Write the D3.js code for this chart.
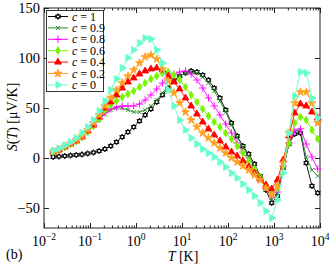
<html>
<head>
<style>
  body { margin: 0; background: #fff; }
  svg { display: block; font-family: "Liberation Serif", "DejaVu Serif", serif; }
  .line { fill: none; stroke-width: 0.9; }
  .frame { fill: none; stroke: #222; stroke-width: 1; }
  .axis path { display: none; }
  .axis line { stroke: #222; }
</style>
</head>
<body>
<svg id="chart" width="332" height="264"></svg>
<script src="https://cdn.jsdelivr.net/npm/d3@7"></script>
<script>
// temperature grid [K]
const T = [0.0158, 0.0211, 0.0282, 0.0376, 0.0501, 0.0668, 0.0891, 0.119, 0.158, 0.211,
  0.282, 0.376, 0.501, 0.668, 0.891, 1.19, 1.58, 2.11, 2.82, 3.76,
  5.01, 6.68, 8.91, 11.9, 15.8, 21.1, 28.2, 37.6, 50.1, 66.8,
  89.1, 119, 158, 211, 282, 376, 501, 668, 891, 1190,
  1585, 2113, 2818, 3758, 5012, 6683, 8913]

// thermopower S(T) [µV/K], one list per concentration
const S_c1 = [1, 1.5, 2, 2.5, 3, 3.5, 4.5, 5.5, 7, 9,
  12, 16, 21, 26, 31, 37, 43, 49, 56, 63,
  70, 77, 82, 85, 87, 86, 83, 78, 70, 60,
  48, 35, 22, 12, 4, -6, -18, -32, -45, -38,
  -10, 14, 24, 25, -5, -28, -35]
const S_c09 = [6, 8, 11, 14, 17, 21, 26, 32, 38, 44,
  48, 50, 50, 48, 46, 46, 48, 52, 58, 65,
  72, 78, 82, 85, 86, 85, 81, 75, 67, 57,
  46, 33, 21, 11, 2, -8, -19, -30, -42, -36,
  -10, 14, 27, 28, 1, -12, -18]
const S_c08 = [6, 8, 11, 14, 17, 21, 26, 33, 39, 45,
  49, 51, 52, 52, 52, 54, 58, 63, 69, 75,
  80, 84, 86, 87, 84, 78, 70, 60, 52, 43,
  34, 25, 15, 6, -3, -12, -21, -30, -39, -34,
  -8, 15, 27, 29, 14, 1, -11]
const S_c06 = [6, 8, 11, 14, 17, 21, 26, 32, 39, 48,
  53, 57, 61, 64, 67, 71, 75, 79, 82, 85,
  86, 83, 78, 71, 63, 56, 49, 42, 36, 31,
  25, 19, 12, 5, -3, -11, -19, -27, -35, -30,
  -8, 15, 35, 41, 38, 28, 19]
const S_c04 = [6, 8, 11, 14, 17, 21, 27, 33, 41, 50,
  56, 63, 70, 76, 80, 84, 87, 89, 90, 88,
  82, 76, 69, 60, 52, 44, 36, 29, 23, 17,
  11, 6, 2, -3, -9, -15, -21, -27, -31, -22,
  -2, 22, 45, 54, 52, 46, 40]
const S_c02 = [6.5, 8.5, 11.5, 14.5, 18, 22, 28, 35, 43, 52,
  60, 68, 75, 82, 88, 95, 101, 103, 99, 89,
  77, 65, 55, 46, 38, 31, 25, 20, 15, 10,
  5, 0, -4, -8, -12, -17, -22, -30, -37, -28,
  -5, 25, 55, 66, 66, 55, 35]
const S_c0 = [7, 9.5, 12.5, 16, 20, 25, 31, 38, 47, 57,
  68, 79, 90, 100, 108, 115, 120, 119, 108, 95,
  68, 52, 38, 28, 20, 14, 9, 5, 1, -4,
  -9, -15, -20, -26, -32, -38, -45, -53, -60, -42,
  -15, 25, 62, 86, 85, 60, 40]

const cLabels = ["1", "0.9", "0.8", "0.6", "0.4", "0.2", "0"]
const colors = ["#000000", "#2a8a2a", "#ff00ff", "#77f500", "#ff0000", "#ffa020", "#66ffcc"]
const seriesValues = [S_c1, S_c09, S_c08, S_c06, S_c04, S_c02, S_c0]

const xTicksMajor = [1e-2, 1e-1, 1e0, 1e1, 1e2, 1e3, 1e4]
const xTickExp = ["\u22122", "\u22121", "0", "1", "2", "3", "4"]
const yTicks = [-50, 0, 50, 100, 150]

const svg = d3.select("#chart")
const pl = 44, pr = 320, pt = 8, pb = 228

const x = d3.scaleLog().domain([0.01, 10000]).range([pl, pr])
const y = d3.scaleLinear().domain([-70, 150]).range([pb, pt])

// minor log ticks 2..9 of each decade
let xMinor = []
xTicksMajor.slice(0, -1).forEach(d => { for (let m = 2; m < 10; m++) xMinor.push(d * m) })

// six-pointed open star used for c = 1
const hexagram = {
  draw(ctx, size) {
    const r = Math.sqrt(size) * 0.62
    const tri = a => {
      for (let i = 0; i < 3; i++) {
        const t = a + i * 2 * Math.PI / 3
        i ? ctx.lineTo(r * Math.cos(t), r * Math.sin(t)) : ctx.moveTo(r * Math.cos(t), r * Math.sin(t))
      }
      ctx.closePath()
    }
    tri(-Math.PI / 2)
    tri(Math.PI / 2)
  }
}

const markers = [
  { type: hexagram, size: 22, fill: "#fff", stroke: "#000", rot: 0 },
  { type: d3.symbolX, size: 13, fill: "none", stroke: colors[1], rot: 0 },
  { type: d3.symbolPlus, size: 20, fill: "none", stroke: colors[2], rot: 0 },
  { type: d3.symbolDiamond, size: 17, fill: colors[3], stroke: colors[3], rot: 0 },
  { type: d3.symbolTriangle, size: 20, fill: colors[4], stroke: colors[4], rot: 0 },
  { type: d3.symbolStar, size: 20, fill: colors[5], stroke: colors[5], rot: 0 },
  { type: d3.symbolTriangle, size: 22, fill: colors[6], stroke: colors[6], rot: 90 }
]

// axes with inward ticks
svg.append("g").attr("class", "axis").attr("transform", `translate(0,${pb})`)
  .call(d3.axisBottom(x).tickValues(xTicksMajor).tickSize(-5).tickFormat(""))
svg.append("g").attr("class", "axis").attr("transform", `translate(0,${pb})`)
  .call(d3.axisBottom(x).tickValues(xMinor).tickSize(-2.5).tickFormat(""))
svg.append("g").attr("class", "axis").attr("transform", `translate(0,${pt})`)
  .call(d3.axisTop(x).tickValues(xTicksMajor).tickSize(-5).tickFormat(""))
svg.append("g").attr("class", "axis").attr("transform", `translate(0,${pt})`)
  .call(d3.axisTop(x).tickValues(xMinor).tickSize(-2.5).tickFormat(""))
svg.append("g").attr("class", "axis").attr("transform", `translate(${pl},0)`)
  .call(d3.axisLeft(y).tickValues(yTicks).tickSize(-5).tickFormat(""))
svg.append("g").attr("class", "axis").attr("transform", `translate(${pr},0)`)
  .call(d3.axisRight(y).tickValues(yTicks).tickSize(-5).tickFormat(""))

svg.append("rect").attr("class", "frame")
  .attr("x", pl).attr("y", pt).attr("width", pr - pl).attr("height", pb - pt)

// x tick labels 10^n
const xl = svg.append("g").selectAll("text").data(xTicksMajor).join("text")
  .attr("x", d => x(d)).attr("y", 246).attr("text-anchor", "middle")
  .attr("font-size", 14)
xl.append("tspan").text("10")
xl.append("tspan").attr("font-size", 9.5).attr("dy", -6).text((d, i) => xTickExp[i])

// y tick labels
svg.append("g").selectAll("text").data(yTicks).join("text")
  .attr("x", 40).attr("y", d => y(d) + 5).attr("text-anchor", "end")
  .attr("font-size", 14.5)
  .text(d => d < 0 ? "\u2212" + Math.abs(d) : d)

// axis titles
const xt = svg.append("text").attr("x", 183).attr("y", 261).attr("text-anchor", "middle").attr("font-size", 14)
xt.append("tspan").attr("font-style", "italic").text("T")
xt.append("tspan").text(" [K]")

const yt = svg.append("text").attr("transform", "translate(17,117) rotate(-90)")
  .attr("text-anchor", "middle").attr("font-size", 14)
yt.append("tspan").attr("font-style", "italic").text("S")
yt.append("tspan").text("(")
yt.append("tspan").attr("font-style", "italic").text("T")
yt.append("tspan").text(") [\u03bcV/K]")

svg.append("text").attr("x", 6).attr("y", 259).attr("font-size", 14).text("(b)")

// curves
const line = d3.line().x(d => x(d[0])).y(d => y(d[1]))
seriesValues.forEach((vals, i) => {
  const pts = T.map((t, j) => [t, vals[j]])
  const g = svg.append("g")
  g.append("path").datum(pts).attr("class", "line").attr("stroke", colors[i]).attr("d", line)
  const m = markers[i]
  g.selectAll("path.mk").data(pts).join("path").attr("class", "mk")
    .attr("transform", d => `translate(${x(d[0])},${y(d[1])}) rotate(${m.rot})`)
    .attr("d", d3.symbol(m.type, m.size))
    .attr("fill", m.fill).attr("stroke", m.stroke).attr("stroke-width", 0.9)
})

// legend
const lg = svg.append("g")
lg.append("rect").attr("x", 46.5).attr("y", 10.5).attr("width", 57).attr("height", 81)
  .attr("fill", "#fff").attr("stroke", "#333")
cLabels.forEach((c, i) => {
  const ly = 16.5 + i * 11.4
  lg.append("line").attr("x1", 48).attr("x2", 68).attr("y1", ly).attr("y2", ly).attr("stroke", colors[i])
  const m = markers[i]
  lg.append("path").attr("transform", `translate(58,${ly}) rotate(${m.rot})`)
    .attr("d", d3.symbol(m.type, m.size)).attr("fill", m.fill).attr("stroke", m.stroke)
  const t = lg.append("text").attr("x", 72).attr("y", ly + 4).attr("font-size", 12)
  t.append("tspan").attr("font-style", "italic").text("c")
  t.append("tspan").text(" = " + c)
})
</script>
</body>
</html>
